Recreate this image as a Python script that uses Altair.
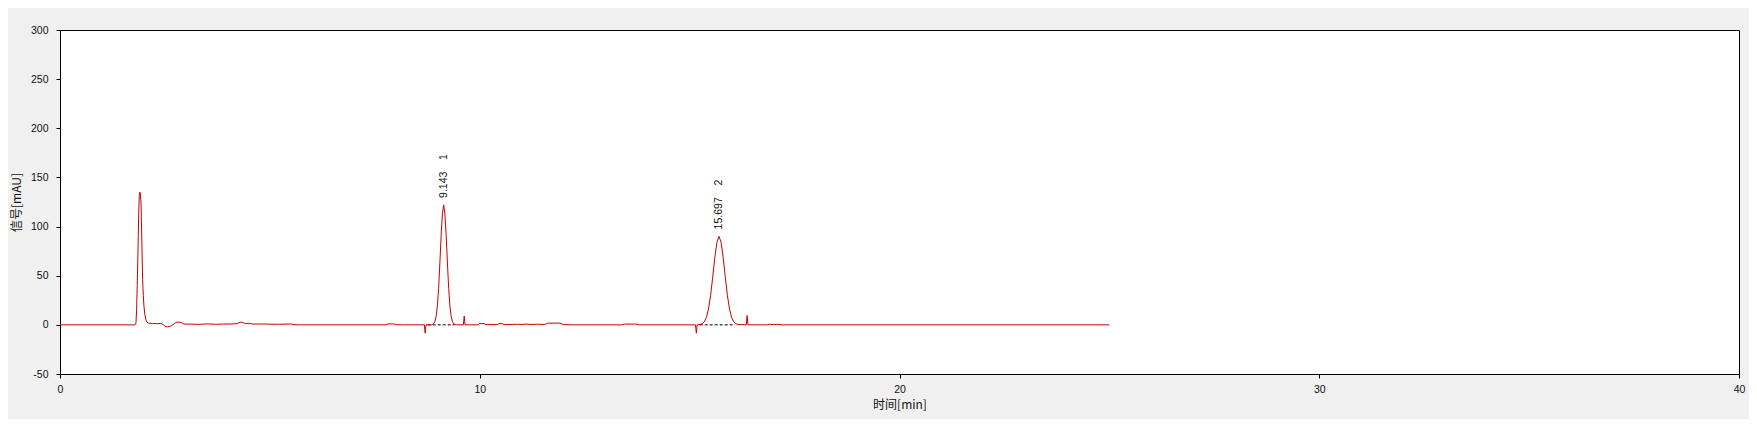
import altair as alt
import pandas as pd

# ---- chromatogram trace ----
time_min = [
    0.0, 1.78, 1.80, 1.81, 1.825, 1.84, 1.855, 1.865, 1.875, 1.889, 1.905, 1.915, 1.929,
    1.94, 1.952, 1.968, 1.985, 2.00, 2.02, 2.048, 2.07, 2.10, 2.2, 2.3, 2.40, 2.46,
    2.50, 2.56, 2.62, 2.66, 2.72, 2.76, 2.84, 2.90, 2.95, 3.1, 3.3, 3.5, 3.7, 3.9,
    4.1, 4.22, 4.29, 4.35, 4.42, 4.5, 4.6, 4.8, 5.0, 5.2, 5.45, 5.50, 5.55, 5.7,
    7.75, 7.82, 7.95, 8.02, 8.2, 8.68, 8.70, 8.72, 8.85,
    8.87, 8.90, 8.93, 8.96, 8.99, 9.02, 9.05, 9.08, 9.11, 9.14, 9.17, 9.20, 9.23,
    9.26, 9.29, 9.32, 9.35, 9.38, 9.41, 9.45,
    9.61, 9.63, 9.65, 9.95, 10.0, 10.1, 10.15, 10.42, 10.46, 10.54, 10.58, 10.9,
    11.0, 11.1, 11.2, 11.35, 11.55, 11.62, 11.9, 12.0, 12.2, 13.38, 13.45, 13.72,
    13.8, 15.14, 15.16, 15.18, 15.25,
    15.30, 15.35, 15.40, 15.45, 15.50, 15.55, 15.60, 15.65, 15.70, 15.75, 15.80,
    15.85, 15.90, 15.95, 16.00, 16.05, 16.10, 16.15,
    16.35, 16.37, 16.39, 16.85, 16.9, 17.0, 17.1, 17.2, 25.0,
]
signal_mau = [
    0.0, 0.0, 0.5, 2.0, 15.0, 40.0, 70.0, 90.0, 112.0, 132.0, 135.0, 133.0, 125.0,
    105.0, 80.0, 46.0, 30.0, 19.0, 11.0, 5.0, 3.0, 1.7, 1.5, 1.2, 1.5, 0.5,
    -1.5, -2.0, -1.6, -0.5, 1.0, 2.7, 2.8, 2.2, 0.8, 0.8, 0.5, 1.0, 0.6, 0.8,
    0.9, 1.2, 2.7, 2.5, 1.2, 1.5, 0.8, 0.9, 0.7, 0.6, 0.8, 1.0, 0.2, 0.0,
    0.0, 1.0, 0.9, 0.1, 0.0, 0.0, -8.5, 0.0, 0.0,
    0.3, 1.1, 3.3, 8.5, 19.0, 37.0, 63.0, 91.0, 113.0, 122.0, 113.0, 91.0, 63.0,
    37.0, 19.0, 8.5, 3.3, 1.1, 0.3, 0.0,
    0.0, 9.0, 0.0, 0.0, 1.3, 1.3, 0.2, 0.3, 1.3, 1.2, 0.2, 0.6,
    0.3, 0.8, 0.4, 0.6, 0.4, 1.7, 1.8, 0.3, 0.0, 0.0, 0.8, 0.8,
    0.0, 0.0, -8.5, 0.0, 0.4,
    1.1, 3.1, 7.6, 16.2, 30.0, 48.5, 68.4, 84.0, 90.0, 84.0, 68.4,
    48.5, 30.0, 16.2, 7.6, 3.1, 1.1, 0.4,
    0.0, 9.5, 0.0, 0.0, 0.6, 0.3, 0.6, 0.0, 0.0,
]

# ---- integration baselines (dashed) ----
base_seg = ["1", "1", "2", "2"]
base_t = [8.76, 9.40, 15.24, 16.08]
base_v = [0.0, 0.0, 0.0, 0.0]

# ---- peak annotations ----
peak_rt = [9.143, 15.697]
peak_h = [122.0, 90.0]
peak_id = ["1", "2"]

x_ticks = [0, 10, 20, 30, 40]
y_ticks = [-50, 0, 50, 100, 150, 200, 250, 300]

trace = pd.DataFrame({"t": time_min, "v": signal_mau})
bases = pd.DataFrame({"seg": base_seg, "t": base_t, "v": base_v})
labels = pd.DataFrame({
    "t": peak_rt,
    "v": peak_h,
    "lab": [f"{rt:.3f}\u00a0\u00a0\u00a0\u00a0{pid}" for rt, pid in zip(peak_rt, peak_id)],
})

x_scale = alt.Scale(domain=[0, 40], nice=False, zero=False)
y_scale = alt.Scale(domain=[-50, 300], nice=False, zero=False)

x_axis = alt.Axis(
    title="时间[min]", values=x_ticks, labelExpr="'' + datum.value", grid=False,
    domainColor="black", tickColor="black", tickSize=4, labelPadding=6,
    labelFont="Liberation Sans", labelFontSize=10.5, labelColor="#111",
    labelFlush=False, labelOverlap=False,
    titleFont="Noto Sans CJK SC", titleFontSize=12, titleFontWeight="normal",
    titleColor="#111", titlePadding=5,
)
y_axis = alt.Axis(
    title="信号[mAU]", values=y_ticks, labelExpr="'' + datum.value", grid=False,
    domainColor="black", tickColor="black", tickSize=4, labelPadding=8,
    labelFont="Liberation Sans", labelFontSize=10.5, labelColor="#111",
    labelFlush=False, labelOverlap=False,
    titleFont="Noto Sans CJK SC", titleFontSize=12, titleFontWeight="normal",
    titleColor="#111", titlePadding=7,
)

line = alt.Chart(trace).mark_line(color="#c80000", strokeWidth=1, interpolate="linear").encode(
    x=alt.X("t:Q", scale=x_scale, axis=x_axis),
    y=alt.Y("v:Q", scale=y_scale, axis=y_axis),
    order="t:Q",
)

dashed = alt.Chart(bases).mark_line(color="black", strokeWidth=1, strokeDash=[3, 2]).encode(
    x=alt.X("t:Q", scale=x_scale),
    y=alt.Y("v:Q", scale=y_scale),
    detail="seg:N",
)

text = alt.Chart(labels).mark_text(
    angle=270, align="left", baseline="middle", dx=7,
    font="Liberation Sans", fontSize=10.5, color="#111",
).encode(
    x=alt.X("t:Q", scale=x_scale),
    y=alt.Y("v:Q", scale=y_scale),
    text="lab:N",
)

chart = alt.layer(dashed, line, text).properties(
    width=1679,
    height=344,
    background="#f0f0f0",
    autosize=alt.AutoSizeParams(type="none"),
    padding={"left": 52, "top": 22, "right": 10, "bottom": 45},
).configure_view(stroke="black", strokeWidth=1, fill="white")

chart.save("out.html", embed_options={"renderer": "svg", "actions": False})
